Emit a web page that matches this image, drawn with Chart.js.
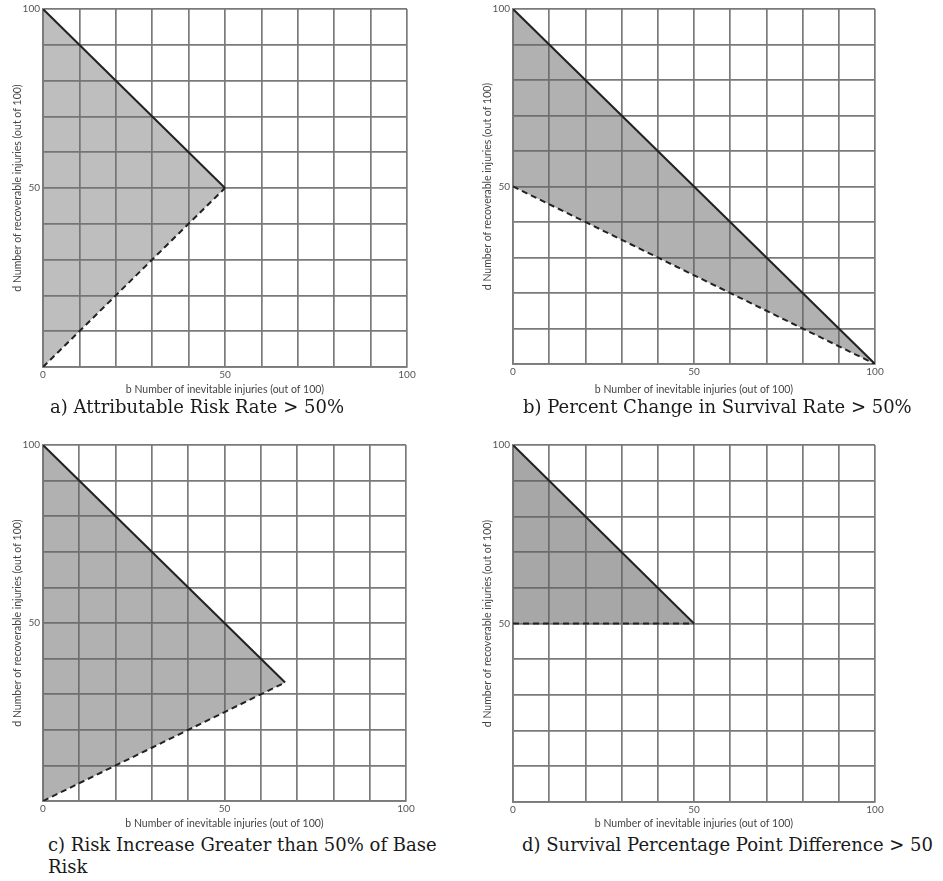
<!DOCTYPE html>
<html>
<head>
<meta charset="utf-8">
<script src="https://cdn.jsdelivr.net/npm/chart.js@4.4.1/dist/chart.umd.min.js"></script>
<style>
  body { margin:0; background:#fff; width:943px; height:881px; position:relative; overflow:hidden; }
  .box { position:absolute; }
  .cap { position:absolute; font-family:"DejaVu Serif", serif; font-size:18px; color:#1a1a1a; line-height:22px; white-space:nowrap; }
</style>
</head>
<body>
<div class="box" style="left:0;top:0"><canvas id="ca" width="420" height="398"></canvas></div>
<div class="box" style="left:470px;top:0"><canvas id="cb" width="420" height="398"></canvas></div>
<div class="box" style="left:0;top:436px"><canvas id="cc" width="420" height="396"></canvas></div>
<div class="box" style="left:470px;top:436px"><canvas id="cd" width="420" height="396"></canvas></div>
<div class="cap" style="left:50px;top:396px">a) Attributable Risk Rate &gt; 50%</div>
<div class="cap" style="left:523px;top:396px">b) Percent Change in Survival Rate &gt; 50%</div>
<div class="cap" style="left:48px;top:834px">c) Risk Increase Greater than 50% of Base<br>Risk</div>
<div class="cap" style="left:522px;top:834px">d) Survival Percentage Point Difference &gt; 50</div>
<script>
// axis
let xTickLabels=[0,50,100]
let yTickLabels=[50,100]
let xTitle="b Number of inevitable injuries (out of 100)"
let yTitle="d Number of recoverable injuries (out of 100)"

// a) attributable risk rate
let aSolidX=[0,50], aSolidY=[100,50]
let aDashX=[0,50], aDashY=[0,50]
// b) percent change in survival rate
let bSolidX=[0,100], bSolidY=[100,0]
let bDashX=[0,100], bDashY=[50,0]
// c) risk increase
let cSolidX=[0,66.7], cSolidY=[100,33.3]
let cDashX=[0,66.7], cDashY=[0,33.3]
// d) survival point difference
let dSolidX=[0,50], dSolidY=[100,50]
let dDashX=[0,50], dDashY=[50,50]

function pts(xs,ys){
  return xs.map((x,i)=>({x:x,y:ys[i]}))
}

function makeChart(id,solidX,solidY,dashX,dashY,pad,xh,shade){
  let ctx=document.getElementById(id).getContext('2d')
  let gridOpts={color:'#7a7a7a',lineWidth:1.7,drawTicks:false}
  let tickFont={family:'Lato',size:10}
  let titleFont={family:'Lato',size:10.5}
  return new Chart(ctx,{
    type:'scatter',
    data:{datasets:[{
      data:pts(solidX,solidY),
      showLine:true,
      borderColor:'#222',
      borderWidth:2,
      pointRadius:0,
      fill:false
    },{
      data:pts(dashX,dashY),
      showLine:true,
      borderColor:'#222',
      borderWidth:2,
      borderDash:[6,4],
      pointRadius:0,
      fill:'-1',
      backgroundColor:shade
    }]},
    options:{
      responsive:false,
      animation:false,
      layout:{padding:pad},
      plugins:{legend:{display:false},tooltip:{enabled:false}},
      scales:{
        x:{
          type:'linear',min:0,max:100,
          grid:gridOpts,
          border:{color:'#7a7a7a',width:1.7},
          ticks:{stepSize:10,padding:2,color:'#555',font:tickFont,maxRotation:0,
            callback:v=>xTickLabels.includes(v)?v:''},
          title:{display:true,text:xTitle,color:'#444',font:titleFont,padding:{top:0,bottom:2}},
          afterFit:s=>{s.height=xh}
        },
        y:{
          type:'linear',min:0,max:100,
          grid:gridOpts,
          border:{color:'#7a7a7a',width:1.7},
          ticks:{stepSize:10,padding:3,color:'#555',font:tickFont,
            callback:v=>yTickLabels.includes(v)?v:''},
          title:{display:true,text:yTitle,color:'#444',font:titleFont,padding:{top:11,bottom:0}},
          afterFit:s=>{s.width=43}
        }
      }
    }
  })
}

makeChart('ca',aSolidX,aSolidY,aDashX,aDashY,{top:8,right:13},31,'rgba(110,110,110,0.45)')
makeChart('cb',bSolidX,bSolidY,bDashX,bDashY,{top:8,right:15},34,'rgba(100,100,100,0.5)')
makeChart('cc',cSolidX,cSolidY,cDashX,cDashY,{top:8,right:14},31,'rgba(100,100,100,0.5)')
makeChart('cd',dSolidX,dSolidY,dDashX,dDashY,{top:9,right:15},30,'rgba(95,95,95,0.55)')
</script>
</body>
</html>
